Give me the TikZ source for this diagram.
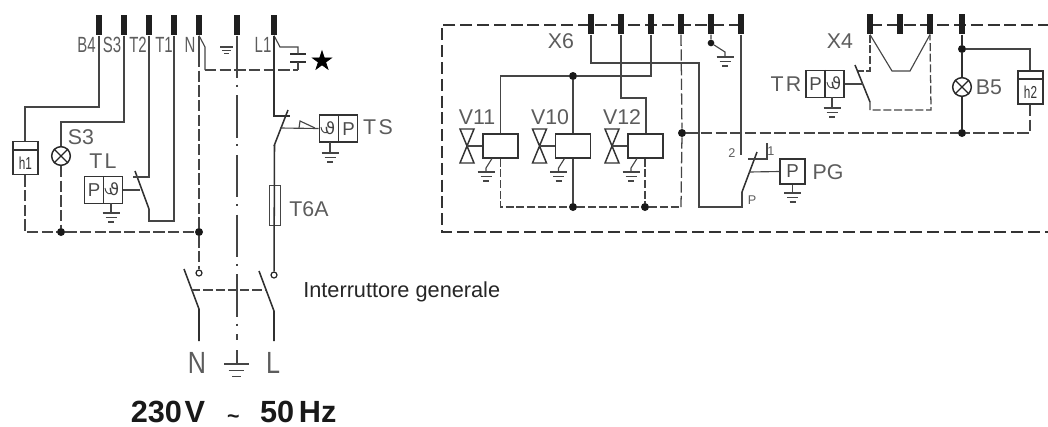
\documentclass[tikz,border=0pt]{standalone}
\usepackage{fontspec}
\setmainfont{Liberation Sans}
\newfontfamily\narrowf[FakeStretch=0.68]{Liberation Sans}
\newfontfamily\slimf[FakeStretch=0.82]{Liberation Sans}
\newfontfamily\widef[LetterSpace=11]{Liberation Sans}
\newfontfamily\symf{DejaVu Sans}
\newfontfamily\starf[FakeBold=2.5]{DejaVu Sans}
\usetikzlibrary{positioning}
\definecolor{ink}{gray}{0.27}
\definecolor{lab}{gray}{0.36}
\tikzset{
  wire/.style={draw=ink,line width=.85pt,line join=miter},
  hwire/.style={draw=ink!70!black,line width=1.15pt},
  dwire/.style={draw=ink,line width=.95pt,dash pattern=on 8.5pt off 2.5pt},
  border/.style={draw=black!80,line width=1.3pt,dash pattern=on 9pt off 3.6pt},
  centre/.style={draw=ink,line width=.8pt,dash pattern=on 32pt off 5pt on 1.5pt off 6.3pt,dash phase=32pt},
  term/.style={rectangle,fill=black!88,minimum width=4.8pt,minimum height=15.5pt,inner sep=0pt},
  junct/.style={circle,fill=black!90,minimum size=6pt,inner sep=0pt},
  ring/.style={circle,draw=black!85,line width=.9pt,fill=white,minimum size=4.5pt,inner sep=0pt},
  lamp/.style={circle,draw=black!85,line width=1.1pt,minimum size=14pt,inner sep=0pt},
  boxy/.style={rectangle,draw=black!80,line width=1.2pt,inner sep=0pt},
  fuse/.style={rectangle,draw=ink,line width=.7pt,inner sep=0pt,minimum width=8.2pt,minimum height=30pt},
  lbl/.style={text=lab,inner sep=0pt,font=\fontsize{16}{16}\selectfont},
  wlbl/.style={text=lab,inner sep=0pt,font=\widef\fontsize{16}{16}\selectfont},
  slbl/.style={text=lab,inner sep=0pt,font=\narrowf\fontsize{16.5}{16.5}\selectfont},
  tiny/.style={text=lab,inner sep=0pt,font=\fontsize{9.5}{10}\selectfont},
  insym/.style={text=black!70,inner sep=0pt,font=\fontsize{14}{14}\selectfont},
  theta/.style={text=black!75,inner sep=0pt,font=\symf\fontsize{12.5}{13}\selectfont},
  gndsym/.pic={
    \draw[wire,line width=.8pt] (-8.5,0)--(8.5,0) (-5.5,4.5)--(5.5,4.5) (-3,9)--(3,9);
  },
  valve/.pic={
    \draw[draw=black!80,line width=1.1pt,line join=miter] (-7,-17)--(7,-17)--(-7,17)--(7,17)--cycle;
  },
  thermo/.pic={
    \node[theta] (-s) at (1,-1) {ϑ};
    \draw[wire,line width=.7pt] (-8,-2) .. controls (-7,5) and (-2,5) .. (-1,2);
  },
}
\begin{document}
\begin{tikzpicture}[x=.75pt,y=-.75pt]
\useasboundingbox (0,0) rectangle (1048,426);
% ---------- left diagram: terminals
\foreach \n/\x in {B4/99,S3/124,T2/149,T1/174,N/199,E/237,L1/274}
  \node[term] (t\n) at (\x,25) {};
\node[slbl] (lB4) at (86.5,45) {B4};
\node[slbl] (lS3) at (112,45) {S3};
\node[slbl] (lT2) at (138,45) {T2};
\node[slbl] (lT1) at (164,45) {T1};
\node[slbl] (lN) at (190,45) {N};
\node[slbl] (lL1) at (263,45) {L1};
\pic[scale=.75] at (226.5,47) {gndsym};
% h1 and S3
\node[boxy,minimum width=18.5pt,minimum height=25pt] (h1) at (25.5,158) {};
\draw[boxy] (h1.west |- 0,150) coordinate (h1a) -- (h1.east |- h1a);
\node[text=black!80,inner sep=0pt,font=\narrowf\fontsize{13}{13}\selectfont] (h1t) at (25.5,163) {h1};
\node[lamp] (lampS3) at (61,156) {};
\draw[draw=black!85,line width=1pt] (lampS3.45)--(lampS3.225) (lampS3.135)--(lampS3.315);
\node[lbl] (S3t) at (81,137) {S3};
\coordinate (b1) at (25,107);
\coordinate (b2) at (61,122);
\draw[wire] (tB4.south) |- (b1) -- (h1.north -| b1);
\draw[wire] (tS3.south) |- (b2) -- (lampS3.north);
% neutral bus
\node[junct] (j1) at (61,232) {};
\node[junct] (j2) at (199,232) {};
\coordinate (b3) at (25,232);
\draw[dwire] (h1.south -| b3) -- (b3) -- (j1) -- (j2);
\draw[dwire] (lampS3.south) -- (j1);
\node[ring] (rN) at (199,273) {};
\coordinate (n1) at (199,56);
\draw[wire] (tN.south) -- (n1);
\draw[dwire] (n1) -- (j2) -- (rN);
% TL thermostat
\node[boxy,minimum width=28.5pt,minimum height=20pt] (TL) at (103.5,190) {};
\draw[boxy] (TL.north) -- (TL.south);
\node[insym] (TLp) at (94,190) {P};
\pic (TLs) at (113,190) {thermo};
\node[wlbl] (TLt) at (103,161) {TL};
\coordinate (c1) at (135,171);
\coordinate (c2) at (149,209);
\coordinate (c3) at (140,190);
\coordinate (c4) at (133,177);
\draw[hwire] (c1) -- (c2);
\draw[wire] (tT2.south) |- (c4);
\draw[wire] (c2) -- (149,221) -| (tT1.south);
\draw[wire] (TL.east) -- (c3);
\draw[wire] (111,203) -- (111,213);
\pic at (111,213) {gndsym};
% capacitor and star
\node[inner sep=0pt,minimum width=11pt,minimum height=5pt] (cap) at (298,58) {};
\draw[hwire,line width=1.6pt] (cap.north west)--(cap.north east) (cap.south west)--(cap.south east);
\node[inner sep=0pt,text=black,font=\starf\fontsize{19}{19}\selectfont] (star) at (322,60) {★};
\coordinate (k1) at (280,47);
\coordinate (k2) at (298,70);
\coordinate (k3) at (205,47);
\coordinate (k4) at (205,70);
\draw[wire] (tL1.south) -- (k1) -| (cap.north);
\draw[wire] (cap.south) -- (k2);
\draw[wire] (tN.south) -- (k3) -- (k4);
\draw[dwire] (k4) -- (k2);
% earth centre line
\coordinate (e1) at (237,78);
\coordinate (e2) at (237,340);
\draw[wire] (tE.south) -- (e1);
\draw[centre] (e1) -- (e2);
\coordinate (e3) at (237,364);
\draw[wire] (237,350) -- (e3);
\pic[scale=1.42] at (236.5,364) {gndsym};
% L1 thermal cut-out
\coordinate (s1) at (274,116);
\coordinate (s2) at (274,146);
\coordinate (s3) at (288,110);
\coordinate (s4) at (290,116);
\draw[hwire] (tL1.south) -- (s1) -- (s4);
\draw[hwire] (s2) -- (s3);
\node[fuse] (T6) at (274.5,205.5) {};
\node[ring] (rL) at (274,275) {};
\draw[hwire] (s2) -- (T6.south |- s2) -- (rL);
\node[lbl] (T6t) at (309,209) {T6A};
\node[boxy,minimum width=28.5pt,minimum height=20.5pt] (TS) at (338.5,128.5) {};
\draw[boxy] (TS.north) -- (TS.south);
\node[insym] (TSp) at (348.5,129) {P};
\pic (TSs) at (329,129) {thermo};
\node[wlbl] (TSt) at (378,127) {TS};
\coordinate (s5) at (280,128);
\draw[wire] (s5) -- (TS.west);
\draw[wire] (299,128) -- (300,121) -- (315,128);
\draw[wire] (330,142) -- (330,153);
\pic at (330,153) {gndsym};
% main switch
\coordinate (m1) at (184,269);
\coordinate (m2) at (199,309);
\coordinate (m3) at (199,341);
\coordinate (m4) at (259,271);
\coordinate (m5) at (274,311);
\coordinate (m6) at (274,341);
\draw[hwire] (m1) -- (m2) -- (m3);
\draw[hwire] (m4) -- (m5) -- (m6);
\draw[dwire,line width=1.05pt,dash pattern=on 7pt off 2.2pt] (191,290) -- (266,290);
\node[text=black!85,inner sep=0pt,anchor=west,font=\fontsize{16.3}{16}\selectfont] (gen) at (303,292) {Interruttore generale};
\node[lbl,font=\slimf\fontsize{23}{23}\selectfont] (Nt) at (197,363) {N};
\node[lbl,font=\slimf\fontsize{23}{23}\selectfont] (Lt) at (273,363) {L};
\node[inner sep=0pt,anchor=west,text=black!90,font=\bfseries\fontsize{23}{23}\selectfont] (volt) at (130.5,412) {230\hspace{2pt}V\hspace{16.5pt}\raisebox{-1pt}{\fontsize{16}{16}\selectfont\textasciitilde}\hspace{15.5pt}50\hspace{3.5pt}Hz};
% ---------- right diagram: terminals
\foreach \n/\x in {a/591,b/621,c/651,d/681,e/711,f/741,g/870,h/900,i/930,j/962}
  \coordinate (p\n) at (\x,25);
\draw[border] (pf) -- (442,25) -- (442,232) -- (1048,232);
\draw[border] (pg) -- (1048,25);
\foreach \n/\x in {a/591,b/621,c/651,d/681,e/711,f/741,g/870,h/900,i/930,j/962}
  \node[term] (x\n) at (\x,24) {};
\node[lbl] (X6t) at (561,41) {X6};
\node[lbl] (X4t) at (840,41) {X4};
% solenoids
\foreach \n/\cx/\vx in {A/500.5/467,B/573/539.5,C/645.5/612}{
  \node[boxy,minimum width=26pt,minimum height=18pt] (v\n) at (\cx,146) {};
  \pic at (\vx,146) {valve};
  \coordinate (w\n) at (\vx,146);
  \draw[wire] (w\n) -- (v\n.west);
}
\node[lbl] (V11) at (477,117) {V11};
\node[lbl] (V10) at (550,117) {V10};
\node[lbl] (V12) at (622,117) {V12};
\foreach \x in {492,564.5,637}{
  \draw[wire] (\x,158.5) -- (\x-6,168) -- (\x-6,171);
  \pic at (\x-6,172) {gndsym};
}
\node[junct] (j3) at (573,76) {};
\node[junct] (j4) at (573,207) {};
\node[junct] (j5) at (645,207) {};
\node[junct] (j6) at (682,133) {};
\coordinate (a1) at (500.5,76);
\coordinate (a2) at (500.5,207);
\coordinate (a3) at (646,98);
\coordinate (a4) at (681,207);
\draw[wire] (xc.south) |- (j3) -- (a1) -- (vA.north -| a1);
\draw[wire] (j3) -- (vB.north);
\draw[wire] (xb.south) |- (a3) -- (vC.north -| a3);
\draw[dwire,dash pattern=on 6pt off 2pt] (vA.south -| a2) -- (a2) -- (j4) -- (j5) -- (a4);
\draw[wire] (vB.south) -- (j4);
\draw[dwire,dash pattern=on 6pt off 2pt] (vC.south -| j5) -- (j5);
\draw[dwire] (xd.south) -- (j6) -- (a4);
% pressure switch
\coordinate (q1) at (699,63);
\coordinate (q2) at (699,207);
\coordinate (q3) at (742,207);
\coordinate (q4) at (742,192);
\coordinate (q5) at (757,152);
\coordinate (q6) at (748,159);
\coordinate (q7) at (767,159);
\coordinate (q8) at (767,143);
\coordinate (q9) at (741,155);
\coordinate (q10) at (749,172);
\draw[wire] (xa.south) |- (q1) -- (q2) -- (q3) -- (q4);
\draw[hwire] (q4) -- (q5);
\draw[wire] (q6) -- (q7) -- (q8);
\draw[wire] (xf.south) -- (q9);
\node[boxy,minimum width=18.5pt,minimum height=18.5pt] (PG) at (792.5,171.5) {};
\node[insym] (PGp) at (792.5,171.5) {P};
\draw[wire] (q10) -- (PG.west);
\draw[wire] (PG.south) -- (792.5,193);
\pic at (792.5,193) {gndsym};
\node[lbl] (PGt) at (828,172) {PG};
\node[tiny] (n2) at (732,153) {2};
\node[tiny] (n1t) at (771,151) {1};
\node[tiny] (np) at (752,200) {P};
% earth link at terminal e
\node[junct,minimum size=5pt] (j7) at (711,43) {};
\draw[wire] (xe.south) -- (j7) -- (725,52) -- (725,56);
\pic at (725,57) {gndsym};
% X4 thermostat
\coordinate (r1) at (892,71);
\coordinate (r2) at (910,71);
\coordinate (r3) at (870,71);
\coordinate (r4) at (858,71);
\coordinate (r5) at (855,65);
\coordinate (r6) at (870,102);
\coordinate (r7) at (870,110);
\coordinate (r8) at (931,110);
\coordinate (r9) at (863,84);
\draw[wire] (xg.south) -- (r1) -- (r2) -- (xi.south);
\draw[dwire,dash pattern=on 6pt off 2pt] (xg.south) -- (r3) -- (r4);
\draw[hwire] (r5) -- (r6);
\draw[dwire,dash pattern=on 6pt off 2pt] (r6) -- (r7) -- (r8) -- (xi.south);
\node[boxy,minimum width=28.5pt,minimum height=20pt] (TR) at (825,84) {};
\draw[boxy] (TR.north) -- (TR.south);
\node[insym] (TRp) at (815.5,84) {P};
\pic (TRs) at (835,84) {thermo};
\node[wlbl] (TRt) at (786,84) {TR};
\draw[wire] (TR.east) -- (r9);
\draw[wire] (832,97) -- (832,108);
\pic at (832,108) {gndsym};
% B5 and h2
\node[junct] (j8) at (962,49) {};
\node[junct] (j9) at (962,133) {};
\node[lamp] (lampB5) at (962,87) {};
\draw[draw=black!85,line width=1pt] (lampB5.45)--(lampB5.225) (lampB5.135)--(lampB5.315);
\node[lbl] (B5t) at (989,87) {B5};
\node[boxy,minimum width=18.5pt,minimum height=25pt] (h2) at (1030.5,87.5) {};
\draw[boxy] (h2.west |- 0,79) coordinate (h2a) -- (h2.east |- h2a);
\node[text=black!80,inner sep=0pt,font=\narrowf\fontsize{13}{13}\selectfont] (h2t) at (1030.5,92.5) {h2};
\coordinate (u1) at (1030,49);
\coordinate (u2) at (1030,133);
\draw[hwire] (xj.south) -- (j8) -- (lampB5.north);
\draw[hwire] (lampB5.south) -- (j9);
\draw[wire] (j8) -- (u1) -- (h2.north -| u1);
\draw[dwire] (h2.south -| u2) -- (u2) -- (j9);
\draw[dwire] (j6) -- (j9);
\end{tikzpicture}
\end{document}
